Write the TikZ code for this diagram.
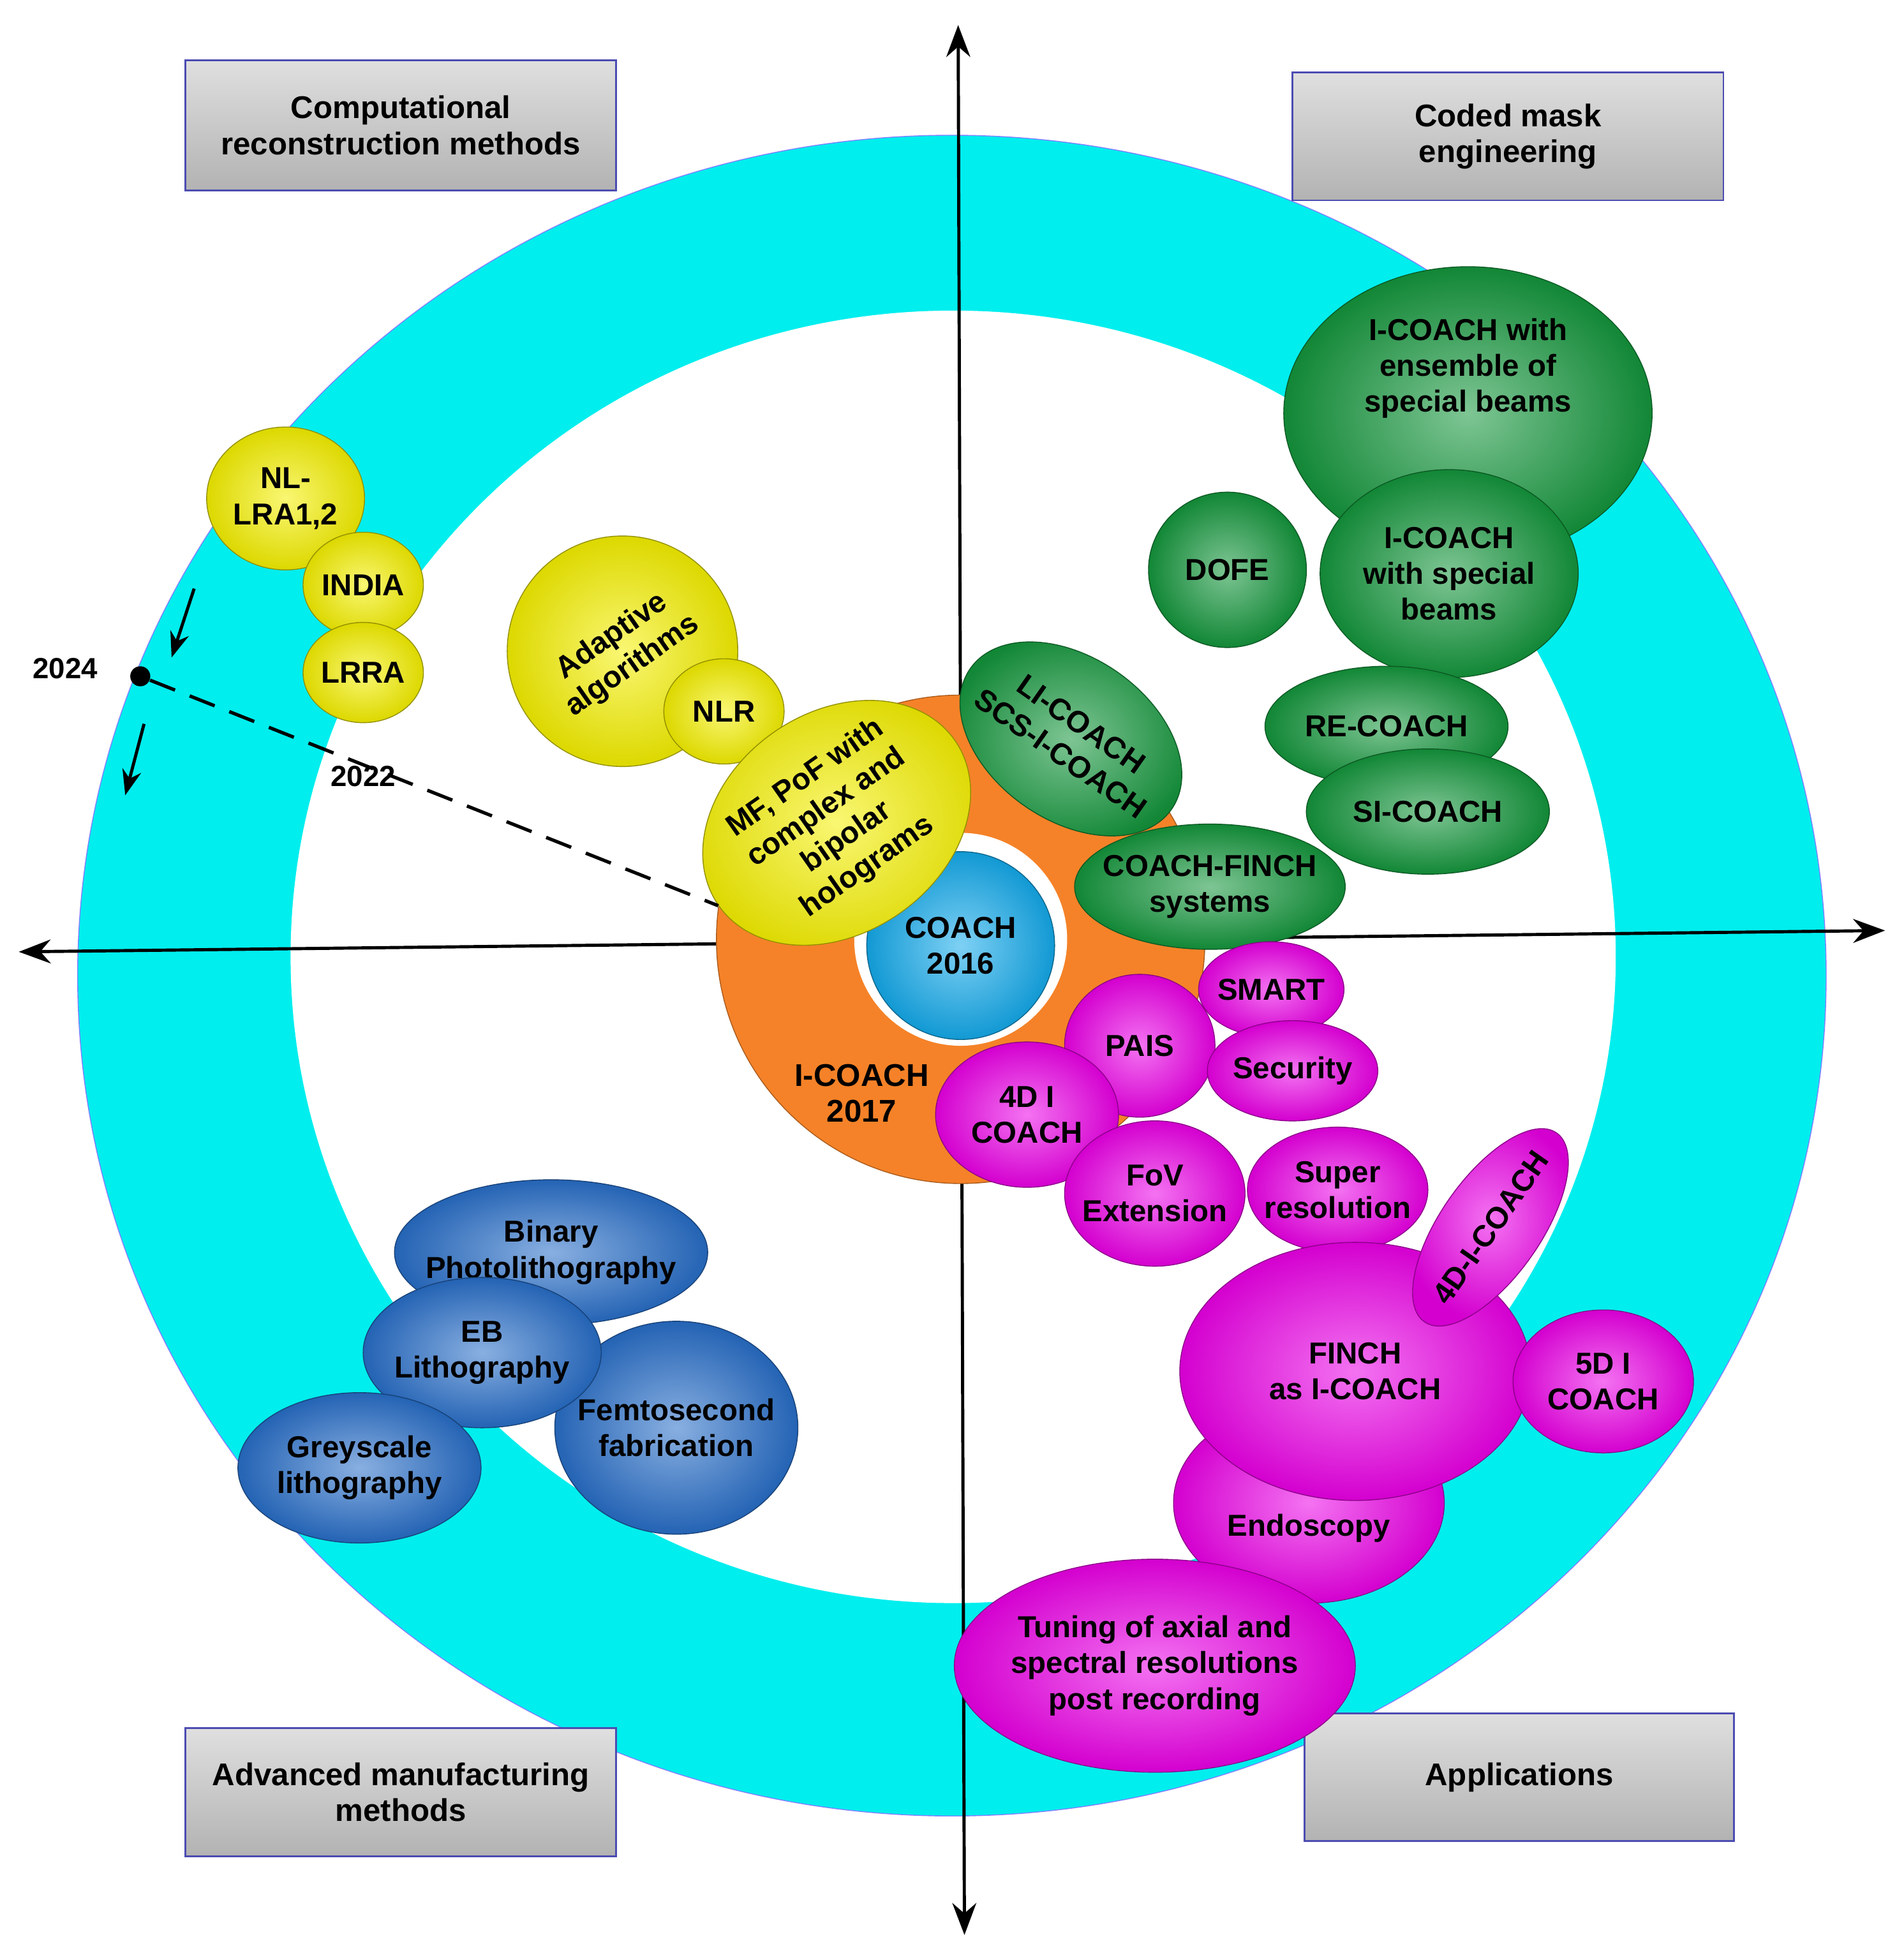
\documentclass[tikz,border=0pt]{standalone}
\usepackage{fontspec}
\setmainfont{Liberation Sans}
\usetikzlibrary{shapes.geometric,arrows.meta}
\definecolor{ring}{RGB}{0,238,238}
\definecolor{ygold}{RGB}{245,240,0}
\definecolor{gdark}{RGB}{20,150,60}
\definecolor{mag}{RGB}{235,0,230}
\definecolor{bblue}{RGB}{40,110,200}
\definecolor{oran}{RGB}{245,130,40}
\definecolor{cblue}{RGB}{20,170,235}
\tikzset{
  bub/.style={ellipse, draw=#1!60!black, inner color=#1!55!white, outer color=#1!90!black, inner sep=-8pt, align=center, font=\bfseries\fontsize{13.5}{16}\selectfont},
  gbox/.style={draw=blue!40!gray, thick, top color=gray!25, bottom color=gray!60, align=center, font=\bfseries\fontsize{14}{16}\selectfont},
  axis/.style={line width=1.4pt, {Stealth[length=5mm]}-{Stealth[length=5mm]}},
  lab/.style={font=\bfseries\fontsize{13}{15}\selectfont}
}
% bubble: colour, name, centre, rx, ry, angle, text
\newcommand\bub[7]{\node[bub=#1, minimum width=#4*0.03926cm, minimum height=#5*0.03926cm, rotate=#6] (#2) at (#3) {#7};}
\begin{document}
\begin{tikzpicture}[x=0.01963cm, y=-0.01963cm]
\useasboundingbox (0,0) rectangle (1520,1565);
% rings
\fill[ring] (760,779) ellipse [x radius=698, y radius=671];
\draw[blue!50, thin] (760,779) ellipse [x radius=698, y radius=671];
\fill[white] (761,764) ellipse [x radius=529, y radius=516];
% axes
\coordinate (top) at (765,20); \coordinate (bot) at (770,1545);
\coordinate (left) at (15,760); \coordinate (right) at (1505,743);
\draw[axis] (top) -- (bot);
\draw[axis] (left) -- (right);
% centre
\fill[oran, draw=oran!70!black] (767,750) circle [radius=195];
\fill[white] (767,750) circle [radius=85];
\node[bub=cblue, circle, minimum size=150*0.01963cm] (coach) at (767,755) {COACH\\2016};
\node[lab, font=\bfseries\fontsize{14}{16}\selectfont, align=center] (icoach) at (688,873) {I-COACH\\2017};
% boxes
\node[gbox, minimum width=344*0.01963cm, minimum height=104*0.01963cm] (comp) at (320,100) {Computational\\reconstruction methods};
\node[gbox, minimum width=344*0.01963cm, minimum height=102*0.01963cm] (mask) at (1204,109) {Coded mask\\engineering};
\node[gbox, minimum width=344*0.01963cm, minimum height=102*0.01963cm] (manu) at (320,1431) {Advanced manufacturing\\methods};
\node[gbox, minimum width=343*0.01963cm, minimum height=102*0.01963cm] (appl) at (1213,1419) {Applications};
% yellow
\bub{ygold}{nllra}{228,398}{63}{57}{0}{NL-\\LRA1,2}
\bub{ygold}{india}{290,467}{48}{42}{0}{INDIA}
\bub{ygold}{lrra}{290,537}{48}{40}{0}{LRRA}
\bub{ygold}{adapt}{497,520}{92}{92}{0}{}
\node[font=\bfseries\fontsize{13.5}{16}\selectfont, align=center, rotate=35] at (497,520) {Adaptive\\algorithms};
\bub{ygold}{nlr}{578,568}{48}{42}{0}{NLR}
% green
\bub{gdark}{ens}{1172,330}{147}{117}{0}{I-COACH with\\ensemble of\\special beams\\[2em]}
\bub{gdark}{dofe}{980,455}{63}{62}{0}{DOFE}
\bub{gdark}{spec}{1157,458}{103}{83}{0}{I-COACH\\with special\\beams}
\bub{gdark}{re}{1107,580}{97}{48}{0}{RE-COACH}
\bub{gdark}{si}{1140,648}{97}{50}{0}{SI-COACH}
\bub{gdark}{li}{855,590}{98}{65}{-35}{LI-COACH\\SCS-I-COACH}
\bub{gdark}{finch}{966,708}{108}{50}{0}{COACH-FINCH\\systems}
\bub{ygold}{mf}{668,657}{115}{88}{35}{MF, PoF with\\complex and\\bipolar\\holograms}
% magenta
\bub{mag}{smart}{1015,790}{58}{38}{0}{SMART}
\bub{mag}{pais}{910,835}{60}{57}{0}{PAIS}
\bub{mag}{secu}{1032,855}{68}{40}{0}{Security}
\bub{mag}{fourd}{820,890}{73}{58}{0}{4D I\\COACH}
\bub{mag}{fov}{922,953}{72}{58}{0}{FoV\\Extension}
\bub{mag}{super}{1068,950}{72}{50}{0}{Super\\resolution}
\bub{mag}{endo}{1045,1200}{108}{80}{0}{\\[1.2em]Endoscopy}
\bub{mag}{finchi}{1082,1095}{140}{103}{0}{FINCH\\as I-COACH}
\bub{mag}{fourdi}{1190,980}{92}{40}{55}{4D-I-COACH}
\bub{mag}{fived}{1280,1103}{72}{57}{0}{5D I\\COACH}
\bub{mag}{tune}{922,1330}{160}{85}{0}{Tuning of axial and\\spectral resolutions\\post recording}
% blue
\bub{bblue}{binary}{440,1000}{125}{58}{0}{Binary\\Photolithography}
\bub{bblue}{femto}{540,1140}{97}{85}{0}{Femtosecond\\fabrication}
\bub{bblue}{eb}{385,1080}{95}{60}{0}{EB\\Lithography}
\bub{bblue}{grey}{287,1172}{97}{60}{0}{Greyscale\\lithography}
% timeline
\node[circle, fill=black, inner sep=0pt, minimum size=16*0.01963cm] (dot) at (112,540) {};
\draw[line width=1.5pt, dash pattern=on 12pt off 7pt] (dot) -- (mf.west);
\node[lab] (y24) at (52,534) {2024};
\node[lab] (y22) at (290,620) {2022};
\coordinate (a1) at (155,470); \coordinate (a2) at (137,525);
\coordinate (b1) at (115,578); \coordinate (b2) at (100,635);
\draw[line width=1.4pt, -{Stealth[length=4mm]}] (a1) -- (a2);
\draw[line width=1.4pt, -{Stealth[length=4mm]}] (b1) -- (b2);
\end{tikzpicture}
\end{document}
